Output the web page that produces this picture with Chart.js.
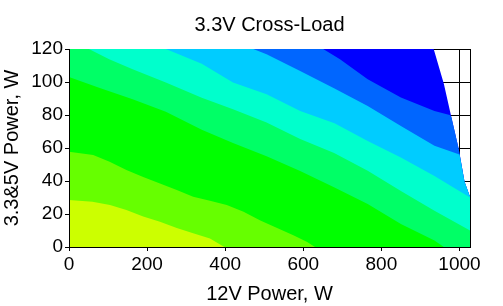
<!DOCTYPE html>
<html>
<head>
<meta charset="utf-8">
<script src="https://cdn.jsdelivr.net/npm/chart.js@4.4.0/dist/chart.umd.min.js"></script>
<style>
  html, body { margin: 0; padding: 0; background: #fff; }
</style>
</head>
<body>
<canvas id="myChart" width="503" height="306"></canvas>
<script>
// contour edges: 12V load (W) and 3.3&5V load (W)
// each band is painted below its edge, lowest band on top
const edgeW1 = [0, 60, 105, 147, 190, 233, 276, 318, 361, 398, 1027]
const edgeV1 = [28.5, 27.5, 25.5, 22.5, 18.5, 15.3, 11.5, 8.3, 5.2, 0, 0]

const edgeW2 = [0, 62, 104, 147, 190, 233, 276, 318, 361, 404, 447, 490, 533, 576, 610, 630, 1027]
const edgeV2 = [57.7, 55.7, 51.6, 46.6, 42.5, 38.5, 34.5, 30.4, 28, 25.4, 21.4, 16, 11.5, 7, 3, 0, 0]

const edgeW3 = [0, 77, 163, 248, 340, 420, 506, 592, 680, 765, 850, 936, 960, 1027]
const edgeV3 = [103, 96.5, 89.5, 82, 71, 63, 55, 46, 36, 26, 14, 4, 0, 0]

const edgeW4 = [0, 51, 103, 163, 248, 340, 420, 506, 592, 679, 765, 850, 936, 1027]
const edgeV4 = [120, 120, 113.8, 107.7, 99.7, 90.5, 83.5, 75.5, 65.4, 57, 46.2, 34, 22, 10]

const edgeW5 = [0, 248, 340, 420, 506, 592, 680, 765, 850, 936, 1027]
const edgeV5 = [120, 120, 111, 99.7, 92.6, 82.5, 75, 64.3, 54.3, 43.1, 30]

const edgeW6 = [0, 472, 506, 592, 680, 765, 850, 936, 1000, 1013, 1026, 1027]
const edgeV6 = [120, 120, 116.8, 106.7, 96, 85.5, 73.4, 61.3, 56, 39.5, 31, 31]

const edgeW7 = [0, 651, 694, 765, 850, 936, 975, 979, 998, 1013, 1026, 1027]
const edgeV7 = [120, 120, 113.8, 101.7, 90.6, 82.5, 80, 79, 59.5, 39.5, 31, 31]

// max load limit, white above it
const limitW = [0, 934, 960, 979, 998, 1013, 1026, 1027]
const limitV = [120, 120, 99, 79, 59.5, 39.5, 31, 31]

const xTicks = [0, 200, 400, 600, 800, 1000]
const yTicks = [0, 20, 40, 60, 80, 100, 120]

const bandColors = ['#ccff00', '#66ff00', '#00ff00', '#00ff66', '#00ffcc', '#00ccff', '#0066ff', '#0000ff']

const edges = [
  [edgeW1, edgeV1], [edgeW2, edgeV2], [edgeW3, edgeV3], [edgeW4, edgeV4],
  [edgeW5, edgeV5], [edgeW6, edgeV6], [edgeW7, edgeV7], [limitW, limitV]
]

const datasets = edges.map((e, i) => ({
  data: e[0].map((w, j) => ({ x: w, y: e[1][j] })),
  backgroundColor: bandColors[i],
  borderColor: bandColors[i],
  borderWidth: 0,
  pointRadius: 0,
  tension: 0,
  fill: 'start'
}))

const font = 'Liberation Sans, Arial, sans-serif'

// plot frame under the bands, axis lines over them
const frame = {
  id: 'frame',
  beforeDatasetsDraw(chart) {
    const { ctx, chartArea: a } = chart
    ctx.save()
    ctx.strokeStyle = '#000'
    ctx.lineWidth = 1
    ctx.strokeRect(Math.round(a.left) + 0.5, Math.round(a.top) + 0.5,
      Math.round(a.right - a.left), Math.round(a.bottom - a.top))
    ctx.restore()
  },
  afterDatasetsDraw(chart) {
    const { ctx, chartArea: a } = chart
    ctx.save()
    ctx.strokeStyle = '#000'
    ctx.lineWidth = 1
    ctx.beginPath()
    ctx.moveTo(Math.round(a.left) + 0.5, a.top)
    ctx.lineTo(Math.round(a.left) + 0.5, Math.round(a.bottom) + 0.5)
    ctx.lineTo(a.right, Math.round(a.bottom) + 0.5)
    ctx.stroke()
    ctx.restore()
  }
}

const ctx = document.getElementById('myChart').getContext('2d')
const chart = new Chart(ctx, {
  type: 'line',
  data: { datasets },
  plugins: [frame],
  options: {
    responsive: false,
    animation: false,
    layout: { padding: { right: 33 } },
    plugins: {
      legend: { display: false },
      tooltip: { enabled: false },
      title: {
        display: true,
        text: '3.3V Cross-Load',
        color: '#000',
        fullSize: false,
        font: { family: font, size: 20, weight: 'normal' },
        padding: { top: 13, bottom: 12 }
      }
    },
    scales: {
      x: {
        type: 'linear',
        min: 0,
        max: 1027,
        afterBuildTicks: s => { s.ticks = xTicks.map(v => ({ value: v })) },
        afterFit: s => { s.height = 59 },
        grid: { color: '#000', lineWidth: 1, tickLength: 4 },
        border: { display: false },
        ticks: { color: '#000', font: { family: font, size: 19 }, padding: 2, maxRotation: 0, autoSkip: false,
          callback: v => String(v) },
        title: { display: true, text: '12V Power, W', color: '#000', font: { family: font, size: 20 }, padding: 0 }
      },
      y: {
        type: 'linear',
        min: 0,
        max: 120,
        afterBuildTicks: s => { s.ticks = yTicks.map(v => ({ value: v })) },
        afterFit: s => { s.width = 69 },
        grid: { color: '#000', lineWidth: 1, tickLength: 4 },
        border: { display: false },
        ticks: { color: '#000', font: { family: font, size: 19 }, padding: 2, autoSkip: false,
          callback: v => String(v) },
        title: { display: true, text: '3.3&5V Power, W', color: '#000', font: { family: font, size: 20 }, padding: 0 }
      }
    }
  }
})
</script>
</body>
</html>
